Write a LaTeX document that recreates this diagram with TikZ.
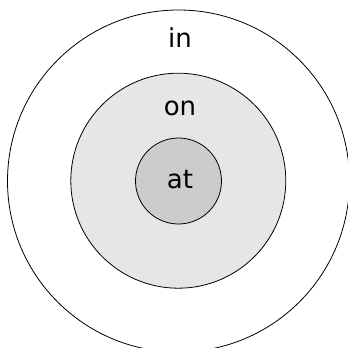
\documentclass[tikz,border=0pt]{standalone}
\usepackage{fontspec}
\setmainfont{DejaVu Sans}
\definecolor{midgray}{HTML}{E6E6E6}
\definecolor{ingray}{HTML}{CCCCCC}
\begin{document}
\begin{tikzpicture}[x=1pt,y=-1pt,
  ring/.style={circle,draw=black,line width=0.8pt,inner sep=0pt},
  lbl/.style={font=\fontsize{26}{30}\selectfont,inner sep=0pt}]
\useasboundingbox (0,0) rectangle (348,348);
\begin{scope}
\clip (0,0) rectangle (348,348);
\node[ring,minimum size=342pt,fill=white] (outer) at (178.5,181) {};
\node[ring,minimum size=215pt,fill=midgray] (mid) at (178.3,180.7) {};
\node[ring,minimum size=86pt,fill=ingray] (inner) at (178.5,181) {};
\end{scope}
\node[lbl,anchor=base] (tin) at (180,47) {in};
\node[lbl,anchor=base] (ton) at (180,115.5) {on};
\node[lbl,anchor=base] (tat) at (180,188.5) {at};
\end{tikzpicture}
\end{document}
